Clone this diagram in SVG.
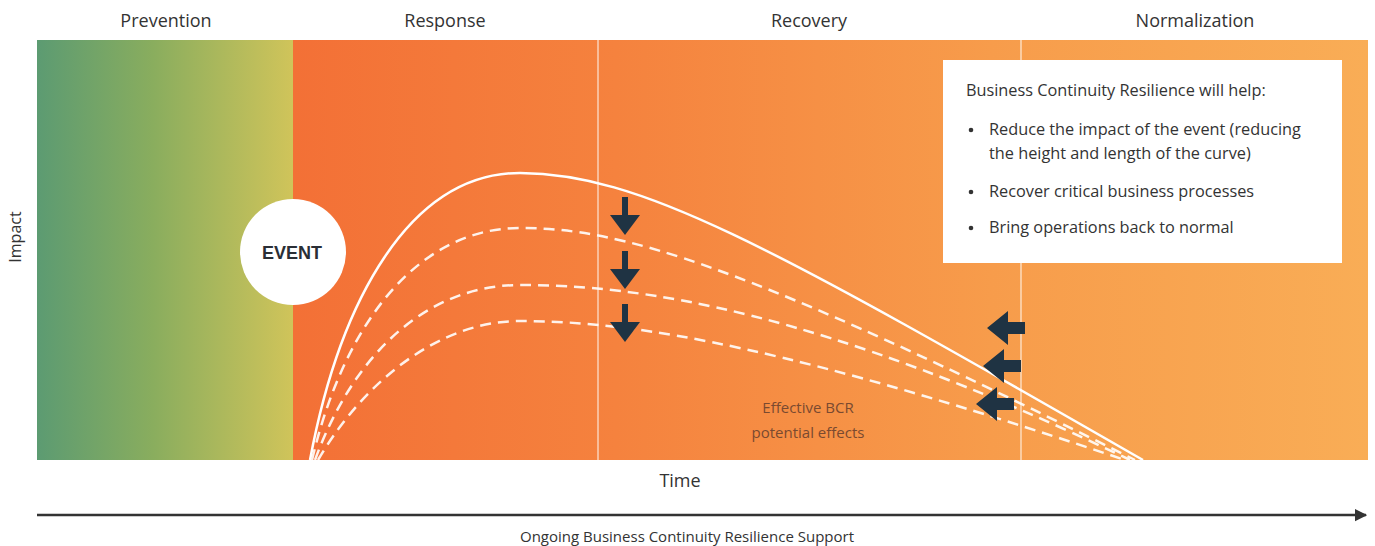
<svg xmlns="http://www.w3.org/2000/svg" width="1375" height="546" viewBox="0 0 1375 546">
<defs>
<linearGradient id="gPrev" x1="0" x2="1" y1="0" y2="0">
<stop offset="0" stop-color="#5c9b72"/><stop offset="0.45" stop-color="#89ad5e"/><stop offset="1" stop-color="#d0c45a"/>
</linearGradient>
<linearGradient id="gMain" x1="293" x2="1368" y1="0" y2="0" gradientUnits="userSpaceOnUse">
<stop offset="0" stop-color="#f37036"/><stop offset="0.3" stop-color="#f5823e"/><stop offset="0.65" stop-color="#f79c4b"/><stop offset="1" stop-color="#f9ad56"/>
</linearGradient>
<marker id="axisHead" viewBox="0 0 10 10" refX="9" refY="5" markerWidth="5" markerHeight="7" markerUnits="strokeWidth" orient="auto">
<path d="M0,0 L10,5 L0,10 z" fill="#333"/>
</marker>
<path id="downArrow" d="M-3,-19 L3,-19 L3,-1 L15,-1 L0,19 L-15,-1 L-3,-1 z" fill="#1f3343"/>
<path id="leftArrow" d="M19,-6 L19,6 L2,6 L2,17 L-19,0 L2,-17 L2,-6 z" fill="#1f3343"/>
</defs>
<style>
.phase{font-family:"Open Sans","Liberation Sans",sans-serif;font-size:18px;fill:#333;text-anchor:middle}
.box{font-family:"Open Sans","Liberation Sans",sans-serif;font-size:16.3px;fill:#333}
.solid{fill:none;stroke:#fff;stroke-width:2.5}
.dash{fill:none;stroke:#fff;stroke-width:2.5;stroke-dasharray:11 7;opacity:0.9}
.divider{stroke:#fff;stroke-width:1.2;opacity:0.8}
.effect{font-family:"Open Sans","Liberation Sans",sans-serif;font-size:15px;fill:#7a4a30;text-anchor:middle}
.axis{font-family:"Open Sans","Liberation Sans",sans-serif;fill:#333;text-anchor:middle}
</style>
<rect width="1375" height="546" fill="#fff"/>
<g id="background">
<rect x="37" y="40" width="256" height="420" fill="url(#gPrev)"/>
<rect x="293" y="40" width="1075" height="420" fill="url(#gMain)"/>
<line class="divider" x1="598" y1="40" x2="598" y2="460"/>
<line class="divider" x1="1021" y1="40" x2="1021" y2="460"/>
</g>
<g id="phase-labels">
<text class="phase" x="166" y="27">Prevention</text>
<text class="phase" x="445" y="27">Response</text>
<text class="phase" x="809" y="27">Recovery</text>
<text class="phase" x="1195" y="27">Normalization</text>
</g>
<g id="info-box">
<rect x="943" y="60" width="399" height="203" fill="#fff"/>
<text class="box" x="966" y="96">Business Continuity Resilience will help:</text>
<circle cx="971" cy="130" r="2.3" fill="#333"/>
<text class="box" x="989" y="135">Reduce the impact of the event (reducing</text>
<text class="box" x="989" y="159">the height and length of the curve)</text>
<circle cx="971" cy="192" r="2.3" fill="#333"/>
<text class="box" x="989" y="197">Recover critical business processes</text>
<circle cx="971" cy="228" r="2.3" fill="#333"/>
<text class="box" x="989" y="233">Bring operations back to normal</text>
</g>
<g id="connectors">
<path class="solid" d="M310,460 C340,300 410,173 520,173 C640,174 760,240 1143,460"/>
<path class="dash" d="M312,460 C345,320 420,228 520,228 C620,228 740,262 1135,460"/>
<path class="dash" d="M315,460 C355,350 430,285 520,285 C640,285 820,310 1130,460"/>
<path class="dash" d="M318,460 C365,380 440,321 520,321 C640,321 800,350 1125,460"/>
</g>
<g id="event">
<circle cx="293" cy="252" r="53" fill="#fff"/>
<text x="292" y="259" font-family="'Liberation Sans',Arial,sans-serif" font-size="18" font-weight="bold" fill="#2a2f36" text-anchor="middle">EVENT</text>
</g>
<g id="down-arrows">
<use href="#downArrow" x="625" y="216"/>
<use href="#downArrow" x="625" y="270"/>
<use href="#downArrow" x="625" y="323"/>
</g>
<g id="left-arrows">
<use href="#leftArrow" x="1006" y="328"/>
<use href="#leftArrow" x="1002" y="366"/>
<use href="#leftArrow" x="995" y="404"/>
</g>
<g id="effects-label">
<text class="effect" x="808" y="413">Effective BCR</text>
<text class="effect" x="808" y="438">potential effects</text>
</g>
<g id="axes">
<text class="axis" x="21" y="237" font-size="16" transform="rotate(-90 21 237)">Impact</text>
<text class="axis" x="680" y="487" font-size="18">Time</text>
<line x1="37" y1="515" x2="1366" y2="515" stroke="#333" stroke-width="2.5" marker-end="url(#axisHead)"/>
<text class="axis" x="687" y="542" font-size="15">Ongoing Business Continuity Resilience Support</text>
</g>
</svg>
